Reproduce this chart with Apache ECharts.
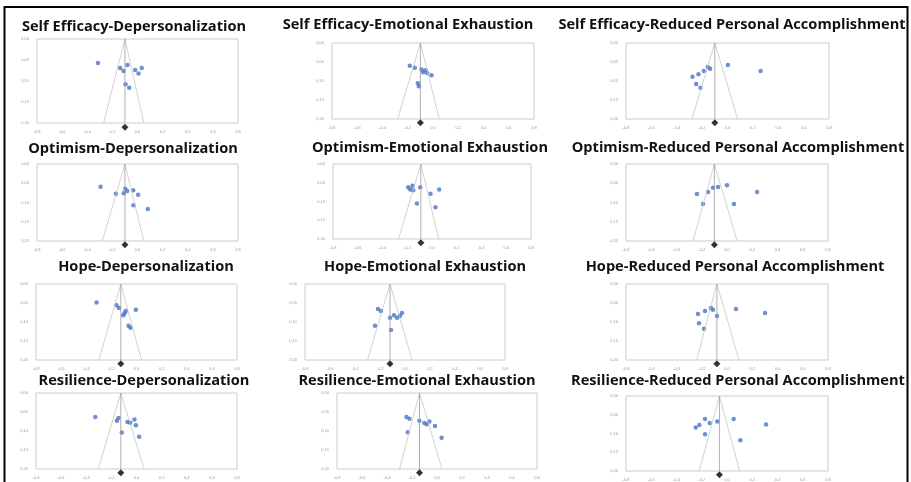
<!DOCTYPE html>
<html>
<head>
<meta charset="utf-8">
<script src="https://cdn.jsdelivr.net/npm/echarts@6/dist/echarts.min.js"></script>
<style>
  html, body { margin: 0; padding: 0; background: #fff; }
  #chart { width: 911px; height: 482px; }
</style>
</head>
<body>
<div id="chart"></div>
<script>
// panel titles, row by row
const titles = [
  'Self Efficacy-Depersonalization', 'Self Efficacy-Emotional Exhaustion', 'Self Efficacy-Reduced Personal Accomplishment',
  'Optimism-Depersonalization', 'Optimism-Emotional Exhaustion', 'Optimism-Reduced Personal Accomplishment',
  'Hope-Depersonalization', 'Hope-Emotional Exhaustion', 'Hope-Reduced Personal Accomplishment',
  'Resilience-Depersonalization', 'Resilience-Emotional Exhaustion', 'Resilience-Reduced Personal Accomplishment'
];

// axis ticks (effect size / standard error)
const xTicks = [-0.8, -0.6, -0.4, -0.2, 0, 0.2, 0.4, 0.6, 0.8];
const yTicks = [0, 0.05, 0.1, 0.15, 0.2];

// pooled estimate and funnel limits at the largest SE
const pooled      = [-0.10, -0.10, -0.10, -0.10, -0.09, -0.10, -0.125, -0.12, -0.08, -0.125, -0.14, -0.06];
const funnelLeft  = [-0.27, -0.28, -0.28, -0.28, -0.27, -0.27, -0.30, -0.30, -0.24, -0.305, -0.30, -0.22];
const funnelRight = [0.05, 0.05, 0.08, 0.05, 0.055, 0.08, 0.04, 0.056, 0.095, 0.06, 0.04, 0.10];

// studies: [effect, SE]
const seDep = [[-0.315, 0.057], [-0.138, 0.069], [-0.111, 0.076], [-0.080, 0.062], [-0.019, 0.074], [0.008, 0.082], [0.034, 0.069], [-0.095, 0.108], [-0.066, 0.116]];
const seEmo = [[-0.184, 0.060], [-0.144, 0.065], [-0.091, 0.070], [-0.078, 0.077], [-0.059, 0.072], [-0.046, 0.079], [-0.012, 0.085], [-0.120, 0.106], [-0.112, 0.114]];
const seRpa = [[-0.276, 0.089], [-0.229, 0.082], [-0.187, 0.074], [-0.155, 0.063], [-0.137, 0.068], [-0.247, 0.108], [-0.213, 0.118], [0.003, 0.058], [0.261, 0.074]];
const opDep = [[-0.294, 0.059], [-0.172, 0.077], [-0.109, 0.076], [-0.098, 0.064], [-0.082, 0.070], [-0.034, 0.068], [0.005, 0.080], [-0.032, 0.107], [0.082, 0.117]];
const opEmo = [[-0.192, 0.062], [-0.176, 0.068], [-0.157, 0.058], [-0.152, 0.070], [-0.095, 0.062], [-0.012, 0.079], [0.058, 0.068], [-0.122, 0.105], [0.028, 0.115]];
const opRpa = [[-0.238, 0.078], [-0.190, 0.104], [-0.150, 0.073], [-0.111, 0.062], [-0.071, 0.060], [0.000, 0.055], [0.055, 0.104], [0.238, 0.073]];
const hoDep = [[-0.318, 0.049], [-0.159, 0.056], [-0.140, 0.063], [-0.106, 0.082], [-0.095, 0.077], [-0.085, 0.071], [-0.005, 0.068], [-0.064, 0.110], [-0.048, 0.115]];
const hoEmo = [[-0.216, 0.066], [-0.192, 0.071], [-0.240, 0.110], [-0.120, 0.089], [-0.112, 0.121], [-0.088, 0.082], [-0.064, 0.089], [-0.040, 0.084], [-0.024, 0.076]];
const hoRpa = [[-0.230, 0.079], [-0.222, 0.103], [-0.174, 0.071], [-0.182, 0.118], [-0.127, 0.063], [-0.111, 0.068], [-0.079, 0.084], [0.071, 0.066], [0.301, 0.076]];
const reDep = [[-0.328, 0.063], [-0.156, 0.073], [-0.143, 0.066], [-0.117, 0.104], [-0.072, 0.076], [-0.050, 0.078], [-0.016, 0.070], [-0.005, 0.085], [0.021, 0.115]];
const reEmo = [[-0.244, 0.063], [-0.221, 0.068], [-0.234, 0.103], [-0.141, 0.073], [-0.101, 0.079], [-0.082, 0.082], [-0.061, 0.075], [-0.016, 0.087], [0.037, 0.118]];
const reRpa = [[-0.248, 0.084], [-0.219, 0.077], [-0.174, 0.061], [-0.174, 0.102], [-0.137, 0.072], [-0.077, 0.068], [0.053, 0.061], [0.106, 0.118], [0.309, 0.076]];

const panelPoints = [seDep, seEmo, seRpa, opDep, opEmo, opRpa, hoDep, hoEmo, hoRpa, reDep, reEmo, reRpa];

// layout (pixels)
const boxes = [
  [37, 39, 201, 84], [332, 43, 202, 76], [626, 43, 203, 76],
  [37, 164, 201, 77], [333, 164, 198, 75], [626, 164, 202, 77],
  [36, 284, 201, 76], [305, 284, 200, 76], [626, 284, 202, 76],
  [36, 393, 201, 76], [337, 393, 200, 76], [626, 396, 202, 76]
];
const titleX = [129, 403, 727, 128, 425, 733, 141, 420, 730, 139, 412, 733];
const titleY = [24, 22, 22, 146, 145, 145, 264, 264, 264, 378, 378, 378];

const comma = (v, d) => v.toFixed(d).replace('.', ',');

const grid = [], xAxis = [], yAxis = [], series = [], title = [];
titles.forEach((t, i) => {
  const [l, tp, w, h] = boxes[i];
  title.push({
    text: t, left: titleX[i], top: titleY[i] - 10, textAlign: 'center',
    textStyle: { fontFamily: 'Open Sans', fontWeight: 'bold', fontSize: 14.6, color: '#111' }
  });
  grid.push({ left: l, top: tp, width: w, height: h, show: true, borderColor: '#cccccc', borderWidth: 1 });
  xAxis.push({
    gridIndex: i, type: 'value', min: xTicks[0], max: xTicks[xTicks.length - 1], interval: 0.2,
    axisLine: { show: false }, axisTick: { show: false }, splitLine: { show: false },
    axisLabel: { fontSize: 4, color: '#999', margin: 7, formatter: v => comma(v, 1) }
  });
  yAxis.push({
    gridIndex: i, type: 'value', inverse: true, min: yTicks[0], max: yTicks[yTicks.length - 1], interval: 0.05,
    axisLine: { show: false }, axisTick: { show: false }, splitLine: { show: false },
    axisLabel: { fontSize: 4, color: '#999', margin: 8, formatter: v => comma(v, 2) }
  });
  const ymax = yTicks[yTicks.length - 1];
  series.push({
    type: 'line', xAxisIndex: i, yAxisIndex: i, silent: true, symbol: 'none',
    lineStyle: { color: '#c6c6c6', width: 0.8 },
    data: [[funnelLeft[i], ymax], [pooled[i], 0], [funnelRight[i], ymax]]
  });
  series.push({
    type: 'line', xAxisIndex: i, yAxisIndex: i, silent: true, symbol: 'none',
    lineStyle: { color: '#9c9c9c', width: 0.8 },
    data: [[pooled[i], 0], [pooled[i], ymax]]
  });
  series.push({
    type: 'scatter', xAxisIndex: i, yAxisIndex: i, symbolSize: 4.5,
    itemStyle: { color: '#4a74c4' }, data: panelPoints[i]
  });
  series.push({
    type: 'scatter', xAxisIndex: i, yAxisIndex: i, symbol: 'diamond', symbolSize: 7, clip: false,
    itemStyle: { color: '#000' }, data: [[pooled[i], ymax * 1.05]]
  });
});

const chart = echarts.init(document.getElementById('chart'));
chart.setOption({
  animation: false,
  backgroundColor: '#fff',
  title, grid, xAxis, yAxis, series,
  graphic: [{
    type: 'rect', shape: { x: 4.5, y: 7, width: 903, height: 490 },
    style: { fill: null, stroke: '#000', lineWidth: 2 }, silent: true
  }]
});
</script>
</body>
</html>
